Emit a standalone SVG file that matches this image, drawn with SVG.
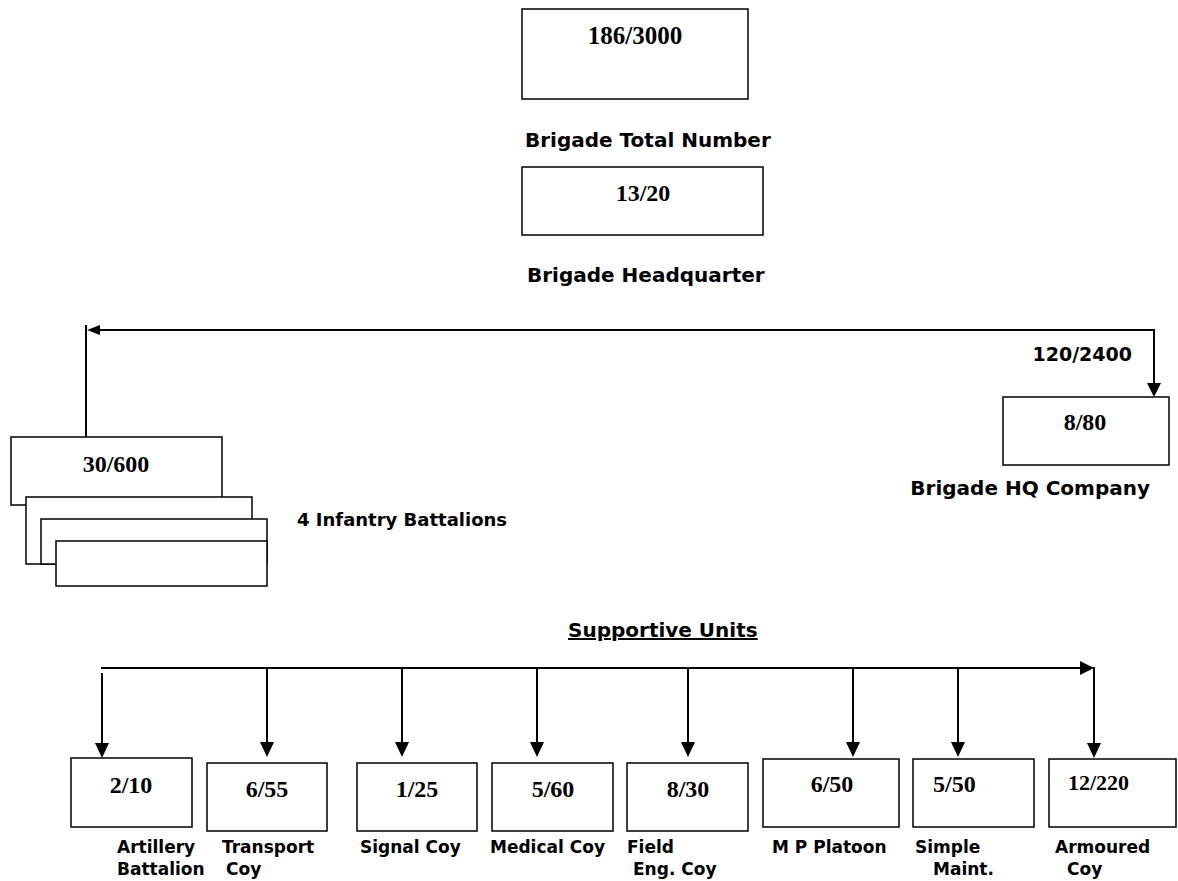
<svg xmlns="http://www.w3.org/2000/svg" width="1178" height="881" viewBox="0 0 1178 881">
<style>
.box{fill:#fff;stroke:#000;stroke-width:1.5}
.num{font-family:"Liberation Serif",serif;font-weight:bold;font-size:24px;fill:#000;text-anchor:middle}
.st{text-anchor:start}
.lbl{font-family:"DejaVu Sans",sans-serif;font-weight:bold;font-size:20px;fill:#000}
.end{text-anchor:end}
.sm{font-family:"DejaVu Sans",sans-serif;font-weight:bold;font-size:17px;fill:#000}
.ln{stroke:#000;stroke-width:2;fill:none}
.ah{fill:#000}
</style>
<rect width="1178" height="881" fill="#fff"/>
<g id="connectors">
  <line class="ln" x1="86" y1="325" x2="86" y2="437"/>
  <line class="ln" x1="98" y1="330" x2="1155" y2="330"/>
  <polygon class="ah" points="87,330 100,325 100,335"/>
  <line class="ln" x1="1154" y1="330" x2="1154" y2="385"/>
  <polygon class="ah" points="1154,397 1147,383 1161,383"/>
  <line class="ln" x1="101" y1="668" x2="1082" y2="668"/>
  <polygon class="ah" points="1094,668 1080,661 1080,675"/>
  <line class="ln" x1="1094" y1="667" x2="1094" y2="745"/>
  <polygon class="ah" points="1094,758 1087,743 1101,743"/>
  <line class="ln" x1="102" y1="673" x2="102" y2="745"/>
  <polygon class="ah" points="102,758 95,743 109,743"/>
  <line class="ln" x1="267" y1="668" x2="267" y2="744"/>
  <polygon class="ah" points="267,757 260,742 274,742"/>
  <line class="ln" x1="402" y1="668" x2="402" y2="744"/>
  <polygon class="ah" points="402,757 395,742 409,742"/>
  <line class="ln" x1="537" y1="668" x2="537" y2="744"/>
  <polygon class="ah" points="537,757 530,742 544,742"/>
  <line class="ln" x1="688" y1="668" x2="688" y2="744"/>
  <polygon class="ah" points="688,757 681,742 695,742"/>
  <line class="ln" x1="853" y1="668" x2="853" y2="744"/>
  <polygon class="ah" points="853,757 846,742 860,742"/>
  <line class="ln" x1="958" y1="668" x2="958" y2="744"/>
  <polygon class="ah" points="958,757 951,742 965,742"/>
</g>
<g id="total">
  <rect class="box" x="522" y="9" width="226" height="90"/>
  <text class="num" x="635" y="44" style="font-size:25px">186/3000</text>
  <text class="lbl" x="525" y="147">Brigade Total Number</text>
</g>
<g id="hq">
  <rect class="box" x="522" y="167" width="241" height="68"/>
  <text class="num" x="643" y="201">13/20</text>
  <text class="lbl" x="527" y="282">Brigade Headquarter</text>
</g>
<g id="infantry">
  <rect class="box" x="11" y="437" width="211" height="68"/>
  <text class="num" x="116" y="472">30/600</text>
  <rect class="box" x="26" y="497" width="226" height="67"/>
  <rect class="box" x="41" y="519" width="226" height="45"/>
  <rect class="box" x="56" y="541" width="211" height="45"/>
  <text class="lbl" x="297" y="526" style="font-size:18px">4 Infantry Battalions</text>
</g>
<g id="hqcoy">
  <text class="lbl end" x="1132" y="361" style="font-size:19px">120/2400</text>
  <rect class="box" x="1003" y="397" width="166" height="68"/>
  <text class="num" x="1085" y="430">8/80</text>
  <text class="lbl end" x="1150" y="495">Brigade HQ Company</text>
</g>
<g id="supportive">
  <text class="lbl" x="568" y="637" text-decoration="underline">Supportive Units</text>
</g>
<g id="artillery">
  <rect class="box" x="71" y="758" width="121" height="69"/>
  <text class="num" x="131" y="793">2/10</text>
  <text class="sm" x="117" y="853">Artillery</text>
  <text class="sm" x="117" y="875">Battalion</text>
</g>
<g id="transport">
  <rect class="box" x="207" y="763" width="120" height="68"/>
  <text class="num" x="267" y="797">6/55</text>
  <text class="sm" x="222" y="853">Transport</text>
  <text class="sm" x="226" y="875">Coy</text>
</g>
<g id="signal">
  <rect class="box" x="357" y="763" width="120" height="68"/>
  <text class="num" x="417" y="797">1/25</text>
  <text class="sm" x="360" y="853">Signal Coy</text>
</g>
<g id="medical">
  <rect class="box" x="492" y="763" width="121" height="68"/>
  <text class="num" x="553" y="797">5/60</text>
  <text class="sm" x="490" y="853">Medical Coy</text>
</g>
<g id="field">
  <rect class="box" x="627" y="763" width="121" height="68"/>
  <text class="num" x="688" y="797">8/30</text>
  <text class="sm" x="627" y="853">Field</text>
  <text class="sm" x="633" y="875">Eng. Coy</text>
</g>
<g id="mp">
  <rect class="box" x="763" y="759" width="136" height="68"/>
  <text class="num" x="832" y="792">6/50</text>
  <text class="sm" x="772" y="853">M P Platoon</text>
</g>
<g id="maint">
  <rect class="box" x="913" y="759" width="121" height="68"/>
  <text class="num st" x="933" y="792">5/50</text>
  <text class="sm" x="915" y="853">Simple</text>
  <text class="sm" x="933" y="875">Maint.</text>
</g>
<g id="armoured">
  <rect class="box" x="1049" y="759" width="127" height="68"/>
  <text class="num st" x="1068" y="790" style="font-size:22px">12/220</text>
  <text class="sm" x="1055" y="853">Armoured</text>
  <text class="sm" x="1067" y="875">Coy</text>
</g>
</svg>
